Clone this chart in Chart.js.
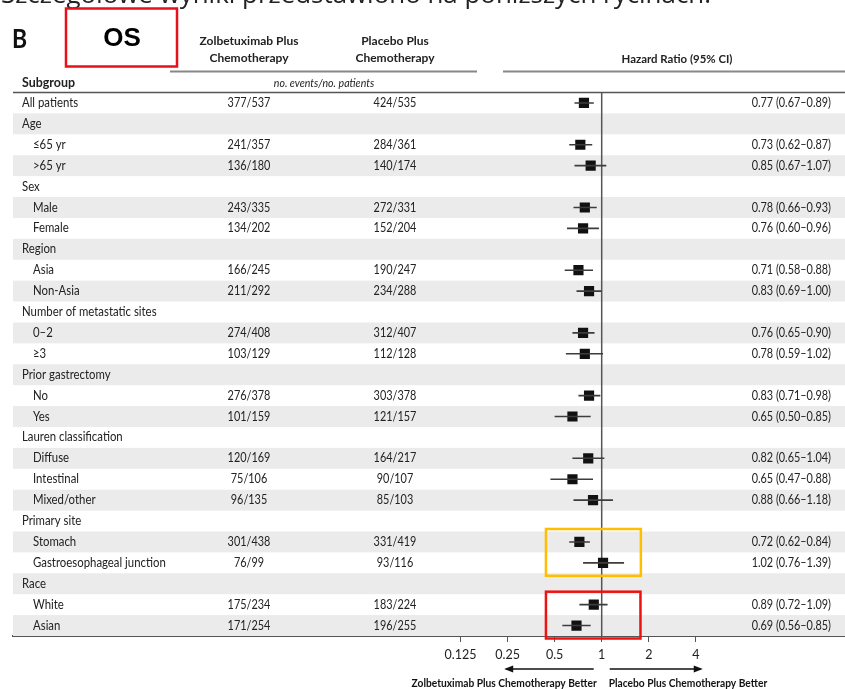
<!DOCTYPE html>
<html>
<head>
<meta charset="utf-8">
<script src="https://cdn.jsdelivr.net/npm/chart.js@4.4.1/dist/chart.umd.min.js"></script>
<style>
  html, body { margin: 0; padding: 0; background: #fff; }
  canvas { display: block; }
</style>
</head>
<body>
<canvas id="forest" width="845" height="689"></canvas>
<script>
// Subgroup rows, top to bottom
const rowLabels = ['All patients', 'Age', '≤65 yr', '>65 yr', 'Sex', 'Male', 'Female', 'Region', 'Asia', 'Non-Asia',
  'Number of metastatic sites', '0–2', '≥3', 'Prior gastrectomy', 'No', 'Yes', 'Lauren classification',
  'Diffuse', 'Intestinal', 'Mixed/other', 'Primary site', 'Stomach', 'Gastroesophageal junction', 'Race', 'White', 'Asian'];
const rowIsSubitem = [0, 0, 1, 1, 0, 1, 1, 0, 1, 1, 0, 1, 1, 0, 1, 1, 0, 1, 1, 1, 0, 1, 1, 0, 1, 1];

// no. events / no. patients
const zolbetuximabEvents = ['377/537', '', '241/357', '136/180', '', '243/335', '134/202', '', '166/245', '211/292',
  '', '274/408', '103/129', '', '276/378', '101/159', '', '120/169', '75/106', '96/135', '', '301/438', '76/99', '', '175/234', '171/254'];
const placeboEvents = ['424/535', '', '284/361', '140/174', '', '272/331', '152/204', '', '190/247', '234/288',
  '', '312/407', '112/128', '', '303/378', '121/157', '', '164/217', '90/107', '85/103', '', '331/419', '93/116', '', '183/224', '196/255'];

// Hazard ratio with 95% CI
const hazardRatio = [0.77, null, 0.73, 0.85, null, 0.78, 0.76, null, 0.71, 0.83, null, 0.76, 0.78, null, 0.83, 0.65,
  null, 0.82, 0.65, 0.88, null, 0.72, 1.02, null, 0.89, 0.69];
const ciLower = [0.67, null, 0.62, 0.67, null, 0.66, 0.60, null, 0.58, 0.69, null, 0.65, 0.59, null, 0.71, 0.50,
  null, 0.65, 0.47, 0.66, null, 0.62, 0.76, null, 0.72, 0.56];
const ciUpper = [0.89, null, 0.87, 1.07, null, 0.93, 0.96, null, 0.88, 1.00, null, 0.90, 1.02, null, 0.98, 0.85,
  null, 1.04, 0.88, 1.18, null, 0.84, 1.39, null, 1.09, 0.85];

const xTickValues = [0.125, 0.25, 0.5, 1, 2, 4];

// Highlight frames: [first row, last row, left HR value, right HR value, colour]
const highlightFrames = [
  [21, 22, 0.44, 1.78, '#ffbf00'],
  [24, 25, 0.44, 1.77, '#ee1111']
];

const FONT = "Lato, 'Liberation Sans', sans-serif";
const fmt = v => v.toFixed(2);

// text drawn with a narrower set width
function narrowText(ctx, s, x, y, align, sx) {
  ctx.save();
  ctx.translate(x, y);
  ctx.scale(sx, 1);
  ctx.textAlign = align;
  ctx.fillText(s, 0, 0);
  ctx.restore();
}

const squarePoints = [];
const whiskerPoints = [];
hazardRatio.forEach((hr, i) => {
  if (hr === null) return;
  squarePoints.push({ x: hr, y: i });
  whiskerPoints.push({ x: ciLower[i], y: i }, { x: ciUpper[i], y: i }, { x: null, y: null });
});

const tablePlugin = {
  id: 'forestTable',
  beforeDatasetsDraw(chart) {
    const { ctx, chartArea, scales: { x, y } } = chart;
    ctx.save();
    // alternating row bands
    ctx.fillStyle = '#ebebeb';
    rowLabels.forEach((_, i) => {
      if (i % 2 === 1) {
        const top = y.getPixelForValue(i - 0.5);
        const bot = y.getPixelForValue(i + 0.5);
        ctx.fillRect(chartArea.left, Math.min(top, bot), chartArea.right - chartArea.left, Math.abs(bot - top));
      }
    });
    // reference line at HR = 1
    const x1 = x.getPixelForValue(1);
    ctx.strokeStyle = '#555';
    ctx.lineWidth = 1.5;
    ctx.beginPath();
    ctx.moveTo(x1, chartArea.top);
    ctx.lineTo(x1, chartArea.bottom);
    ctx.stroke();
    ctx.restore();
  },
  afterDraw(chart) {
    const { ctx, chartArea, scales: { x, y } } = chart;
    ctx.save();

    // top caption line
    ctx.fillStyle = '#222';
    ctx.textAlign = 'left';
    ctx.textBaseline = 'alphabetic';
    ctx.font = "26px 'Open Sans', sans-serif";
    const caption = 'Szczegółowe wyniki przedstawiono na poniższych rycinach.';
    const w = ctx.measureText(caption).width;
    ctx.save();
    ctx.translate(1, 3);
    ctx.scale(710 / w, 1);
    ctx.fillText(caption, 0, 0);
    ctx.restore();

    ctx.textBaseline = 'middle';
    ctx.fillStyle = '#111';
    ctx.font = `bold 27px ${FONT}`;
    narrowText(ctx, 'B', 12, 39, 'left', 0.85);

    // OS frame
    ctx.strokeStyle = '#e8101a';
    ctx.lineWidth = 2.5;
    ctx.strokeRect(66, 8.5, 111, 58);
    ctx.fillStyle = '#000';
    ctx.font = "bold 26px 'Liberation Sans', Arial, sans-serif";
    narrowText(ctx, 'OS', 122, 39, 'center', 1);

    // column headers
    ctx.fillStyle = '#222';
    ctx.font = `bold 12px ${FONT}`;
    narrowText(ctx, 'Zolbetuximab Plus', 249, 41, 'center', 1);
    narrowText(ctx, 'Chemotherapy', 249, 58, 'center', 1);
    narrowText(ctx, 'Placebo Plus', 395, 41, 'center', 1);
    narrowText(ctx, 'Chemotherapy', 395, 58, 'center', 1);
    narrowText(ctx, 'Hazard Ratio (95% CI)', 677, 59, 'center', 0.95);

    ctx.strokeStyle = '#888';
    ctx.lineWidth = 2;
    ctx.beginPath();
    ctx.moveTo(170, 71.5); ctx.lineTo(477, 71.5);
    ctx.moveTo(503, 71.5); ctx.lineTo(845, 71.5);
    ctx.stroke();

    ctx.font = `bold 13.5px ${FONT}`;
    narrowText(ctx, 'Subgroup', 22, 83, 'left', 0.92);
    ctx.font = `italic 11.5px ${FONT}`;
    narrowText(ctx, 'no. events/no. patients', 324, 83, 'center', 0.92);

    ctx.strokeStyle = '#555';
    ctx.lineWidth = 1.5;
    ctx.beginPath();
    ctx.moveTo(chartArea.left, chartArea.top); ctx.lineTo(chartArea.right, chartArea.top);
    ctx.stroke();

    // table rows
    ctx.font = `12.5px ${FONT}`;
    ctx.fillStyle = '#222';
    rowLabels.forEach((label, i) => {
      const py = y.getPixelForValue(i);
      narrowText(ctx, label, rowIsSubitem[i] ? 33 : 22, py, 'left', 0.91);
      if (zolbetuximabEvents[i]) narrowText(ctx, zolbetuximabEvents[i], 249, py, 'center', 0.87);
      if (placeboEvents[i]) narrowText(ctx, placeboEvents[i], 395, py, 'center', 0.87);
      if (hazardRatio[i] !== null) {
        narrowText(ctx, `${fmt(hazardRatio[i])} (${fmt(ciLower[i])}–${fmt(ciUpper[i])})`, 831, py, 'right', 0.87);
      }
    });

    // highlight frames
    highlightFrames.forEach(([r0, r1, v0, v1, col]) => {
      const top = y.getPixelForValue(r0 - 0.5) - 2.5;
      const bot = y.getPixelForValue(r1 + 0.5) + 2.5;
      const l = x.getPixelForValue(v0);
      const r = x.getPixelForValue(v1);
      ctx.strokeStyle = col;
      ctx.lineWidth = 2.5;
      ctx.strokeRect(l, top, r - l, bot - top);
    });

    // direction arrows
    const x1 = x.getPixelForValue(1);
    const arrowY = 669;
    const drawArrow = (from, to) => {
      ctx.strokeStyle = '#111';
      ctx.fillStyle = '#111';
      ctx.lineWidth = 1.5;
      ctx.beginPath();
      ctx.moveTo(from, arrowY); ctx.lineTo(to, arrowY);
      ctx.stroke();
      const d = Math.sign(to - from);
      ctx.beginPath();
      ctx.moveTo(to + d * 2, arrowY);
      ctx.lineTo(to - d * 7, arrowY - 3.5);
      ctx.lineTo(to - d * 7, arrowY + 3.5);
      ctx.closePath();
      ctx.fill();
    };
    drawArrow(x1 - 8, x.getPixelForValue(0.245));
    drawArrow(x1 + 8, x.getPixelForValue(4.3));

    ctx.fillStyle = '#111';
    ctx.font = `bold 11px ${FONT}`;
    narrowText(ctx, 'Zolbetuximab Plus Chemotherapy Better', x1 - 5, 683, 'right', 0.93);
    narrowText(ctx, 'Placebo Plus Chemotherapy Better', x1 + 7, 683, 'left', 0.93);
    ctx.restore();
  }
};

new Chart(document.getElementById('forest'), {
  type: 'scatter',
  data: {
    datasets: [
      {
        label: '95% CI',
        data: whiskerPoints,
        showLine: true,
        spanGaps: false,
        borderColor: '#3c3c3c',
        borderWidth: 1.6,
        pointRadius: 0,
        pointHoverRadius: 0
      },
      {
        label: 'Hazard ratio',
        data: squarePoints,
        pointStyle: 'rect',
        pointRadius: 7.2,
        pointHoverRadius: 7.2,
        backgroundColor: '#111',
        borderWidth: 0
      }
    ]
  },
  options: {
    responsive: false,
    animation: false,
    devicePixelRatio: 1,
    layout: { autoPadding: false, padding: { left: 13, right: 0, top: 92.5, bottom: 3 } },
    plugins: { legend: { display: false }, tooltip: { enabled: false } },
    scales: {
      x: {
        type: 'logarithmic',
        bounds: 'data',
        min: Math.pow(2, -12.507),
        max: Math.pow(2, 5.169),
        afterBuildTicks: s => { s.ticks = xTickValues.map(v => ({ value: v })); },
        afterFit: s => { s.height = 50; s.paddingLeft = 0; s.paddingRight = 0; },
        grid: { display: true, drawOnChartArea: false, drawTicks: true, tickLength: 6, color: '#555', lineWidth: 1 },
        border: { display: true, color: '#555', width: 2 },
        ticks: {
          padding: 5,
          color: '#222',
          font: { family: FONT, size: 12.5 },
          maxRotation: 0,
          autoSkip: false,
          callback: v => String(v)
        }
      },
      y: {
        type: 'linear',
        display: false,
        reverse: true,
        min: -0.5,
        max: 25.5
      }
    }
  },
  plugins: [tablePlugin]
});
</script>
</body>
</html>
